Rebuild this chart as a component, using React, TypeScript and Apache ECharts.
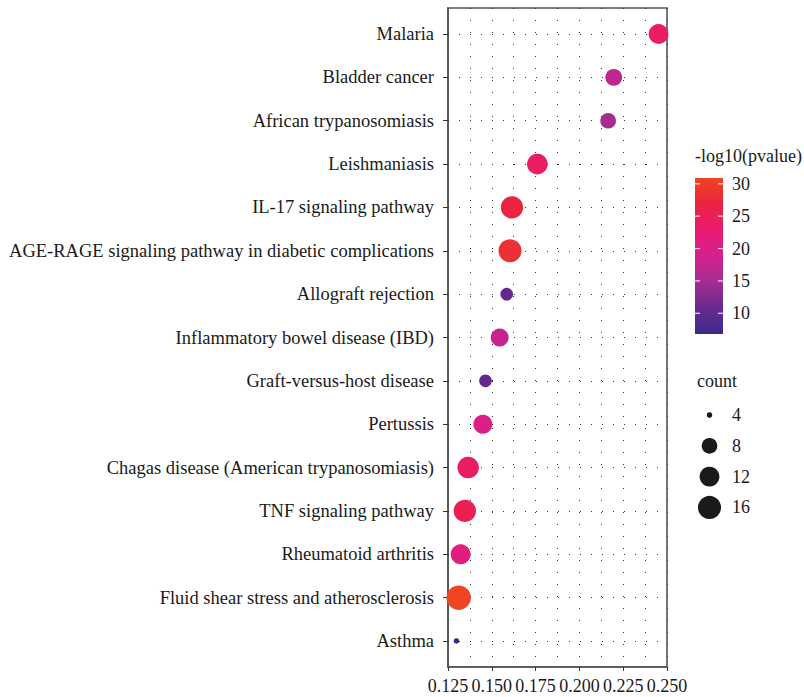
import React, { useEffect, useRef } from "react";
import * as echarts from "echarts";

const categories = [
  "Malaria",
  "Bladder cancer",
  "African trypanosomiasis",
  "Leishmaniasis",
  "IL-17 signaling pathway",
  "AGE-RAGE signaling pathway in diabetic complications",
  "Allograft rejection",
  "Inflammatory bowel disease (IBD)",
  "Graft-versus-host disease",
  "Pertussis",
  "Chagas disease (American trypanosomiasis)",
  "TNF signaling pathway",
  "Rheumatoid arthritis",
  "Fluid shear stress and atherosclerosis",
  "Asthma",
];
const richFactor = [0.2452, 0.2196, 0.2164, 0.176, 0.1615, 0.1604, 0.1585, 0.1545, 0.1464, 0.1449, 0.1365, 0.1346, 0.1322, 0.1311, 0.1298];
const counts = [12, 9, 8, 13, 15, 16, 6, 10, 6, 11, 14, 15, 12, 18, 4];
const logP = [24, 17, 15, 24, 27, 28.5, 10.5, 17.5, 10.5, 20, 24, 25.5, 21, 30.9, 6.8];

const xTicks = [0.125, 0.15, 0.175, 0.2, 0.225, 0.25];
const colorTicks = [10, 15, 20, 25, 30];
const sizeLegend = [4, 8, 12, 16];
const colorMin = 6.8;
const colorMax = 30.9;
const colorStops = ["#3B2A8C", "#68298F", "#A42D90", "#D6208F", "#EA1A72", "#EA2340", "#EE4522"];
const countMin = 4;
const countMax = 18;

const FONT = "'Liberation Serif', 'DejaVu Serif', serif";

function sizeFn(c: number) {
  return 5.5 + 19 * Math.sqrt((c - countMin) / (countMax - countMin));
}

export default function App() {
  const ref = useRef<HTMLDivElement>(null);
  useEffect(() => {
    if (!ref.current) return;
    const chart = echarts.init(ref.current, null, { renderer: "svg" });

    const data = categories.map((c, i) => [richFactor[i], i, logP[i], counts[i], c]);

    // colour bar geometry
    const cbX = 695, cbY = 178, cbW = 28, cbH = 156;
    const valToY = (v: number) => cbY + cbH - ((v - colorMin) / (colorMax - colorMin)) * cbH;
    const n = colorStops.length;
    const gradStops = colorStops
      .slice()
      .reverse()
      .map((col, i) => ({ offset: i / (n - 1), color: col }));

    const legendFont = `18px ${FONT}`;
    const graphics: any[] = [
      {
        type: "text",
        left: 695,
        top: 147,
        style: { text: "-log10(pvalue)", font: legendFont, fill: "#1a1a1a" },
      },
      {
        type: "rect",
        shape: { x: cbX, y: cbY, width: cbW, height: cbH },
        style: {
          fill: {
            type: "linear",
            x: 0,
            y: 0,
            x2: 0,
            y2: 1,
            colorStops: gradStops,
            global: false,
          },
        },
      },
    ];
    colorTicks.forEach((v) => {
      const y = valToY(v);
      graphics.push({
        type: "line",
        shape: { x1: cbX, y1: y, x2: cbX + 5, y2: y },
        style: { stroke: "#ffffff", lineWidth: 1.2, opacity: 0.85 },
      });
      graphics.push({
        type: "line",
        shape: { x1: cbX + cbW - 5, y1: y, x2: cbX + cbW, y2: y },
        style: { stroke: "#ffffff", lineWidth: 1.2, opacity: 0.85 },
      });
      graphics.push({
        type: "text",
        x: cbX + cbW + 9,
        y: y,
        style: { text: String(v), font: legendFont, fill: "#1a1a1a", verticalAlign: "middle" },
      });
    });
    graphics.push({
      type: "text",
      left: 697,
      top: 372,
      style: { text: "count", font: legendFont, fill: "#1a1a1a" },
    });
    sizeLegend.forEach((c, i) => {
      const cy = 415 + i * 30.8;
      graphics.push({
        type: "circle",
        shape: { cx: 709.5, cy, r: sizeFn(c) / 2 },
        style: { fill: "#1a1a1a" },
      });
      graphics.push({
        type: "text",
        x: 732,
        y: cy,
        style: { text: String(c), font: legendFont, fill: "#1a1a1a", verticalAlign: "middle" },
      });
    });

    const dotted = { color: "#333", width: 1, type: [1, 11] as any };

    chart.setOption({
      animation: false,
      backgroundColor: "#ffffff",
      grid: {
        left: 448,
        right: 804 - 667,
        top: 8,
        bottom: 697 - 667,
        show: true,
        borderColor: "#555",
        borderWidth: 1.6,
        containLabel: false,
      },
      xAxis: {
        type: "value",
        min: 0.125,
        max: 0.25,
        interval: 0.025,
        axisLine: { show: true, onZero: false, lineStyle: { color: "#555", width: 1.6 } },
        axisTick: { show: true, inside: false, length: 4, lineStyle: { color: "#333" } },
        axisLabel: {
          margin: 10,
          fontFamily: FONT,
          fontSize: 18,
          color: "#1a1a1a",
          formatter: (v: number) => {
            const m = xTicks.find((t) => Math.abs(t - v) < 1e-9);
            return m !== undefined ? m.toFixed(3) : "";
          },
        },
        splitLine: { show: true, lineStyle: dotted },
        minorTick: { show: false, splitNumber: 2 },
        minorSplitLine: { show: true, lineStyle: dotted },
      },
      yAxis: {
        type: "value",
        min: -0.6,
        max: categories.length - 1 + 0.6,
        inverse: true,
        axisLine: { show: true, onZero: false, lineStyle: { color: "#555", width: 1.6 } },
        axisTick: { show: true, length: 5, lineStyle: { color: "#333" }, customValues: categories.map((_, i) => i) },
        axisLabel: {
          margin: 14,
          fontFamily: FONT,
          fontSize: 18.5,
          color: "#1a1a1a",
          customValues: categories.map((_, i) => i),
          formatter: (v: number) => categories[Math.round(v)] ?? "",
        },
        splitLine: { show: false },
      },
      visualMap: {
        show: false,
        type: "continuous",
        dimension: 2,
        min: colorMin,
        max: colorMax,
        inRange: { color: colorStops },
        seriesIndex: 1,
      },
      series: [
        {
          type: "line",
          data: [],
          z: 1,
          silent: true,
          markLine: {
            z: 1,
            silent: true,
            symbol: ["none", "none"],
            label: { show: false },
            lineStyle: { color: "#333", width: 1, type: [1, 10] },
            data: categories.map((_, i) => [
              { coord: [0.125, i] },
              { coord: [0.25, i] },
            ]),
          },
        },
        {
          type: "scatter",
          z: 3,
          data,
          symbolSize: (d: any) => sizeFn(d[3]),
          itemStyle: { opacity: 1 },
        },
      ],
      graphic: graphics,
    });

    return () => chart.dispose();
  }, []);

  return <div ref={ref} style={{ width: 804, height: 697, position: "absolute", left: 0, top: 0 }} />;
}
